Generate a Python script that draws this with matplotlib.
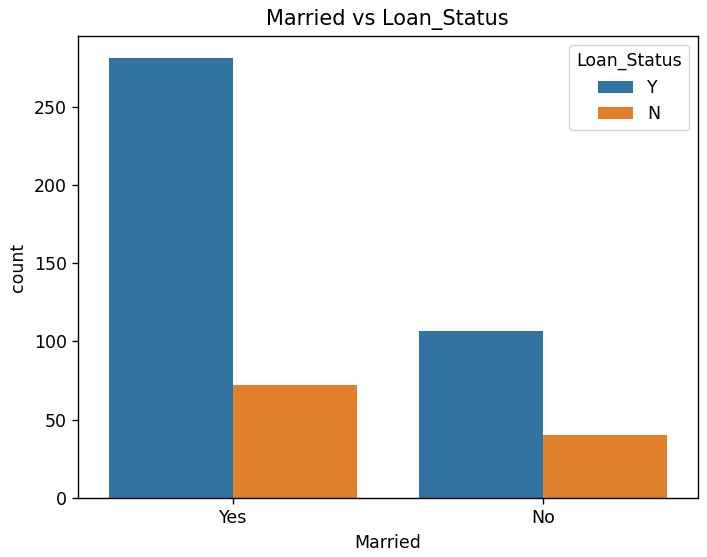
import matplotlib
matplotlib.use("Agg")
import matplotlib.pyplot as plt
import numpy as np

categories = ["Yes", "No"]
hue_levels = ["Y", "N"]
counts_Y = [281, 107]
counts_N = [72, 40]
colors = ["#3274a1", "#e1812c"]

fs = 12.5
fig = plt.figure(figsize=(7.07, 5.57), dpi=100)
ax = fig.add_axes([0.110, 0.106, 0.877, 0.829])

x = np.arange(len(categories))
w = 0.4
ax.bar(x - w / 2, counts_Y, width=w, color=colors[0], label=hue_levels[0])
ax.bar(x + w / 2, counts_N, width=w, color=colors[1], label=hue_levels[1])

ax.set_xticks(x)
ax.set_xticklabels(categories)
ax.set_xlim(-0.5, 1.5)
ax.set_ylim(0, max(counts_Y) * 1.05)
ax.tick_params(labelsize=fs, length=4.5, width=1.0)
ax.set_xlabel("Married", fontsize=fs, labelpad=5)
ax.set_ylabel("count", fontsize=fs, labelpad=5)
ax.set_title("Married vs Loan_Status", fontsize=15, pad=8)
for s in ax.spines.values():
    s.set_linewidth(1.0)
ax.legend(title="Loan_Status", loc="upper right", fontsize=fs, title_fontsize=fs)

fig.savefig("out.png", dpi=100)
